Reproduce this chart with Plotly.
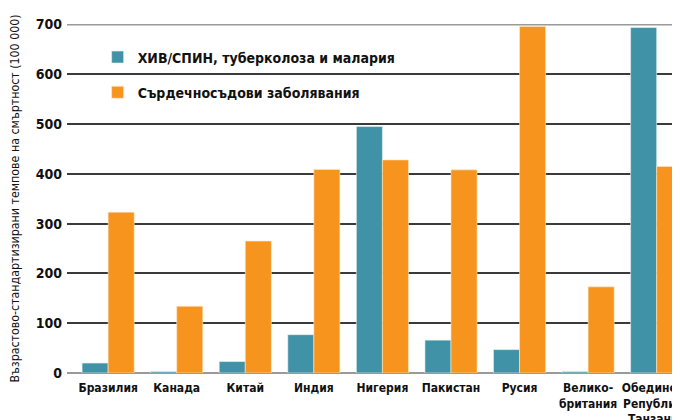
import plotly.graph_objects as go

countries = [
    "Бразилия", "Канада", "Китай", "Индия", "Нигерия",
    "Пакистан", "Русия", "Велико-<br>британия", "Обединена<br>Република<br>Танзания",
]
hiv_tb_malaria = [20, 3, 23, 77, 495, 66, 47, 3, 694]
cardiovascular = [323, 134, 265, 409, 428, 408, 696, 173, 415]
y_ticks = [0, 100, 200, 300, 400, 500, 600, 700]

TEAL = "#4092a6"
ORANGE = "#f7941d"
FONT = "DejaVu Sans Condensed, Liberation Sans Narrow, Liberation Sans, sans-serif"

fig = go.Figure()
fig.add_trace(
    go.Bar(
        x=countries, y=hiv_tb_malaria, name="ХИВ/СПИН, туберколоза и малария",
        marker=dict(color=TEAL, line=dict(color="#e8f2f4", width=0.6)),
        legendgroup="a",
    )
)
fig.add_trace(
    go.Bar(
        x=countries, y=cardiovascular, name="Сърдечносъдови заболявания",
        marker=dict(color=ORANGE, line=dict(color="#fde8cc", width=0.6)),
        legendgroup="b",
    )
)

# top gridline is lighter than the rest
fig.add_hline(y=max(y_ticks), line=dict(color="#9a9a9a", width=2), layer="below")

# page body has an 8px margin, so offsets are compensated here
fig.update_layout(
    width=680,
    height=420,
    margin=dict(l=59, r=8, t=16, b=55),
    plot_bgcolor="white",
    paper_bgcolor="white",
    barmode="group",
    bargap=0.24,
    bargroupgap=0,
    font=dict(family=FONT, color="#111", size=12),
    showlegend=True,
    legend=dict(
        x=0.05, y=0.95, xanchor="left", yanchor="top",
        font=dict(size=14, family=FONT, weight="bold"),
        tracegroupgap=14,
        bgcolor="rgba(0,0,0,0)",
    ),
    xaxis=dict(
        range=[-0.6, 8.34],
        showgrid=False,
        showline=False,
        ticks="",
        automargin=False,
        ticklabelstandoff=6,
        tickfont=dict(size=12, family=FONT, weight="bold"),
    ),
    yaxis=dict(
        range=[0, 701],
        tickvals=y_ticks,
        showgrid=True,
        gridcolor="#3a3a3a",
        gridwidth=2,
        zeroline=True,
        zerolinecolor="#9a9a9a",
        zerolinewidth=2,
        ticks="",
        automargin=False,
        ticklabelstandoff=4,
        tickfont=dict(size=14, family=FONT, weight="bold"),
        title=dict(
            text="Възрастово-стандартизирани темпове на смъртност (100 000)",
            font=dict(size=12.3, family=FONT),
            standoff=14,
        ),
    ),
)

fig.write_html("out.html")
